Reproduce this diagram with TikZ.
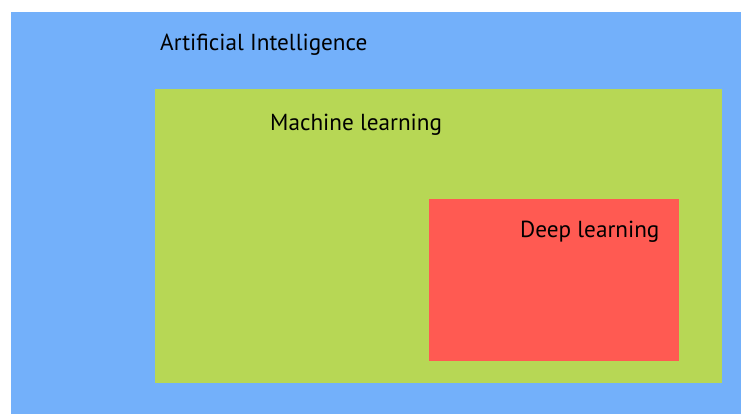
\documentclass[tikz,border=0pt]{standalone}
\usepackage{fontspec}
\setmainfont{PT Sans}
\usepackage{xcolor}
\usepackage{tikz}
\usetikzlibrary{calc}
\definecolor{aiblue}{RGB}{115,176,250}
\definecolor{mlgreen}{RGB}{183,215,85}
\definecolor{dlred}{RGB}{255,90,82}
\tikzset{
  fieldlabel/.style={anchor=base west, inner sep=0pt, font=\fontsize{23.2}{26}\selectfont, text=black}
}
\begin{document}
\begin{tikzpicture}[x=1pt, y=-1pt]

	\useasboundingbox (0,0) rectangle (741,414);

	\coordinate (AItop) at (11,12);
	\coordinate (AIbot) at (741,414);
	\coordinate (MLtop) at (155,89);
	\coordinate (MLbot) at (722,383);
	\coordinate (DLtop) at (429,199);
	\coordinate (DLbot) at (679,361);

	\fill[aiblue] (AItop) rectangle (AIbot);
	\fill[mlgreen] (MLtop) rectangle (MLbot);
	\fill[dlred] (DLtop) rectangle (DLbot);

	\node[fieldlabel] (ai) at (160,51) {Artificial Intelligence};
	\node[fieldlabel] (ml) at (270,131) {Machine learning};
	\node[fieldlabel] (dl) at (520,237) {Deep learning};

\end{tikzpicture}
\end{document}
